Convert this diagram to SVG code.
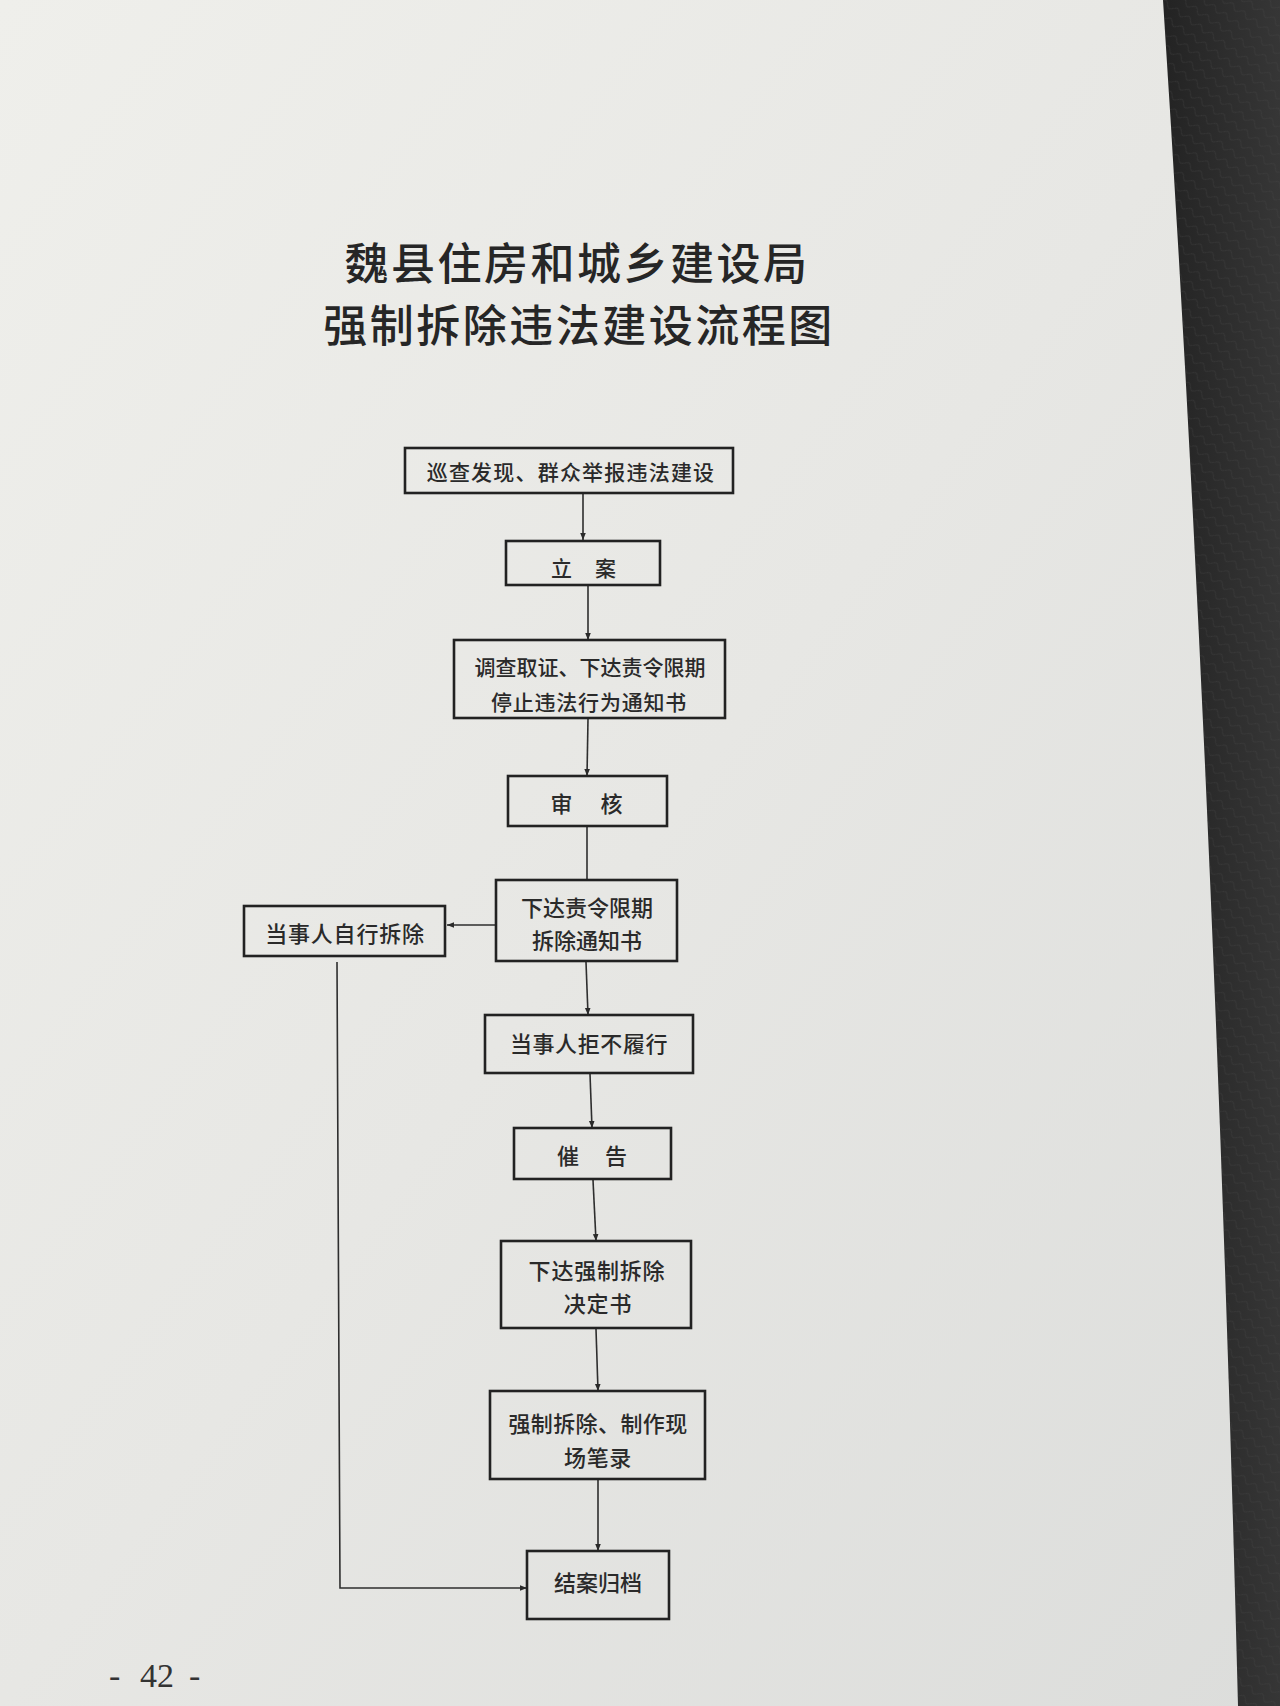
<svg xmlns="http://www.w3.org/2000/svg" width="1280" height="1706" viewBox="0 0 1280 1706">
  <defs>
    <linearGradient id="paper" x1="0" y1="0" x2="1" y2="1">
      <stop offset="0" stop-color="#efefeb"/>
      <stop offset="0.5" stop-color="#e7e7e4"/>
      <stop offset="1" stop-color="#dcdddb"/>
    </linearGradient>
    <linearGradient id="leather" x1="0" y1="0" x2="1" y2="0">
      <stop offset="0" stop-color="#232323"/>
      <stop offset="1" stop-color="#363636"/>
    </linearGradient>
    <pattern id="grain" width="14" height="12" patternUnits="userSpaceOnUse" patternTransform="rotate(35)">
      <path d="M0 6 Q4 1 7 6 T14 6" fill="none" stroke="#454545" stroke-width="0.8" opacity="0.5"/>
    </pattern>
    <marker id="arrow" viewBox="0 0 10 10" refX="10" refY="5" markerWidth="7" markerHeight="7" markerUnits="userSpaceOnUse" orient="auto">
      <path d="M0 1 L10 5 L0 9 Z" fill="#2a2a2a"/>
    </marker>
    <style>
      .box { fill: none; stroke: #222222; stroke-width: 2.6; }
      .lbl { font-family: "Noto Sans CJK SC", "Noto Sans", sans-serif; font-size: 22px; font-weight: 500; fill: #2a2a2a; text-anchor: middle; dominant-baseline: central; }
      .title { font-family: "Noto Sans CJK SC", "Noto Sans", sans-serif; font-size: 44px; font-weight: 500; fill: #262626; text-anchor: middle; dominant-baseline: central; letter-spacing: 2.5px; }
      .conn { fill: none; stroke: #2e2e2e; stroke-width: 1.6; }
      .pg { font-family: "Liberation Serif", serif; font-size: 34px; fill: #333333; }
    </style>
  </defs>

  <!-- background -->
  <rect x="0" y="0" width="1280" height="1706" fill="url(#paper)"/>
  <path d="M1163 0 L1280 0 L1280 1706 L1238 1706 Q1215 800 1163 0 Z" fill="url(#leather)"/>
  <path d="M1163 0 L1280 0 L1280 1706 L1238 1706 Q1215 800 1163 0 Z" fill="url(#grain)"/>

  <!-- title -->
  <g id="title">
    <text class="title" x="577" y="261">魏县住房和城乡建设局</text>
    <text class="title" x="579" y="323">强制拆除违法建设流程图</text>
  </g>

  <!-- connectors -->
  <g id="connectors">
    <line class="conn" x1="583" y1="494" x2="583" y2="540" marker-end="url(#arrow)"/>
    <line class="conn" x1="588" y1="586" x2="588" y2="640" marker-end="url(#arrow)"/>
    <line class="conn" x1="588" y1="719" x2="587" y2="776" marker-end="url(#arrow)"/>
    <line class="conn" x1="587" y1="827" x2="587" y2="880"/>
    <line class="conn" x1="496" y1="925" x2="447" y2="925" marker-end="url(#arrow)"/>
    <line class="conn" x1="586" y1="962" x2="588" y2="1015" marker-end="url(#arrow)"/>
    <line class="conn" x1="590" y1="1074" x2="592" y2="1128" marker-end="url(#arrow)"/>
    <line class="conn" x1="593" y1="1180" x2="596" y2="1241" marker-end="url(#arrow)"/>
    <line class="conn" x1="596" y1="1329" x2="598" y2="1391" marker-end="url(#arrow)"/>
    <line class="conn" x1="598" y1="1480" x2="598" y2="1551" marker-end="url(#arrow)"/>
    <polyline class="conn" points="337,962 340,1588 527,1588" marker-end="url(#arrow)"/>
  </g>

  <!-- nodes -->
  <g id="n1">
    <rect class="box" x="405" y="448" width="328" height="45"/>
    <text class="lbl" x="571" y="471" style="font-size:21px;letter-spacing:1.2px">巡查发现、群众举报违法建设</text>
  </g>
  <g id="n2">
    <rect class="box" x="506" y="541" width="154" height="44"/>
    <text class="lbl" x="584" y="567" style="font-size:21px;letter-spacing:1px">立　案</text>
  </g>
  <g id="n3">
    <rect class="box" x="454" y="640" width="271" height="78"/>
    <text class="lbl" x="590" y="666" style="font-size:21px">调查取证、下达责令限期</text>
    <text class="lbl" x="589" y="701" style="font-size:21px;letter-spacing:0.8px">停止违法行为通知书</text>
  </g>
  <g id="n4">
    <rect class="box" x="508" y="776" width="159" height="50"/>
    <text class="lbl" x="588" y="802" style="letter-spacing:3px">审　核</text>
  </g>
  <g id="n5">
    <rect class="box" x="496" y="880" width="181" height="81"/>
    <text class="lbl" x="587" y="906">下达责令限期</text>
    <text class="lbl" x="587" y="939">拆除通知书</text>
  </g>
  <g id="n6">
    <rect class="box" x="244" y="906" width="201" height="50"/>
    <text class="lbl" x="345" y="932" style="letter-spacing:0.8px">当事人自行拆除</text>
  </g>
  <g id="n7">
    <rect class="box" x="485" y="1015" width="208" height="58"/>
    <text class="lbl" x="589" y="1042" style="letter-spacing:0.6px">当事人拒不履行</text>
  </g>
  <g id="n8">
    <rect class="box" x="514" y="1128" width="157" height="51"/>
    <text class="lbl" x="593" y="1154" style="letter-spacing:2px">催　告</text>
  </g>
  <g id="n9">
    <rect class="box" x="501" y="1241" width="190" height="87"/>
    <text class="lbl" x="597" y="1269" style="letter-spacing:0.8px">下达强制拆除</text>
    <text class="lbl" x="598" y="1302" style="letter-spacing:0.8px">决定书</text>
  </g>
  <g id="n10">
    <rect class="box" x="490" y="1391" width="215" height="88"/>
    <text class="lbl" x="598" y="1422" style="letter-spacing:0.4px">强制拆除、制作现</text>
    <text class="lbl" x="598" y="1456" style="letter-spacing:0.6px">场笔录</text>
  </g>
  <g id="n11">
    <rect class="box" x="527" y="1551" width="142" height="68"/>
    <text class="lbl" x="598" y="1581">结案归档</text>
  </g>

  <!-- page number -->
  <text class="pg" y="1687"><tspan x="109">-</tspan><tspan x="140">42</tspan><tspan x="189">-</tspan></text>
</svg>
